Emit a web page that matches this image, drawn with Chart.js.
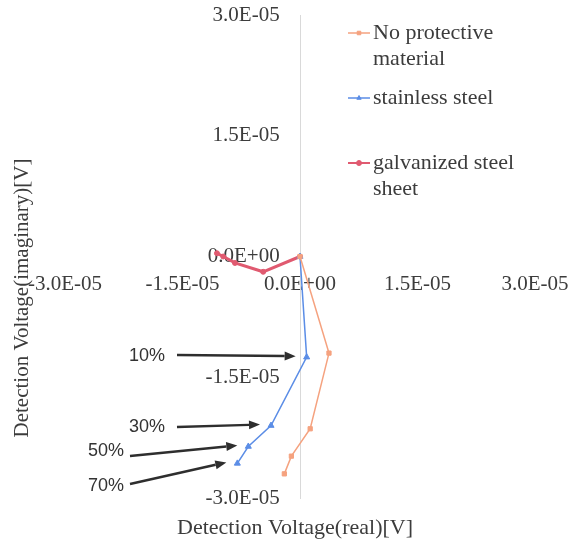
<!DOCTYPE html>
<html>
<head>
<meta charset="utf-8">
<script src="https://cdn.jsdelivr.net/npm/chart.js@4/dist/chart.umd.min.js"></script>
<style>
  html, body { margin: 0; padding: 0; background: #ffffff; }
  #wrap { width: 576px; height: 547px; position: relative; }
</style>
</head>
<body>
<div id="wrap"><canvas id="c" width="576" height="547"></canvas></div>
<script>
// Axis ticks (volts) and their printed labels
const xTickValues = [-3.0e-5, -1.5e-5, 0, 1.5e-5, 3.0e-5];
const xTickLabels = ['-3.0E-05', '-1.5E-05', '0.0E+00', '1.5E-05', '3.0E-05'];
const yTickValues = [-3.0e-5, -1.5e-5, 0, 1.5e-5, 3.0e-5];
const yTickLabels = ['-3.0E-05', '-1.5E-05', '0.0E+00', '1.5E-05', '3.0E-05'];

// Series: detection voltage (real, imaginary) from 0% to 70%
const seriesNames = ['No protective material', 'stainless steel', 'galvanized steel sheet'];
const noProtectReal = [0, 3.7e-6, 1.3e-6, -1.1e-6, -2.0e-6];
const noProtectImag = [0, -12.0e-6, -21.4e-6, -24.8e-6, -27.0e-6];
const stainlessReal = [0, 0.85e-6, -3.7e-6, -6.6e-6, -8.0e-6];
const stainlessImag = [0, -12.5e-6, -21.0e-6, -23.6e-6, -25.7e-6];
const galvanizedReal = [0, -4.7e-6, -8.3e-6, -9.8e-6, -10.6e-6];
const galvanizedImag = [0, -1.9e-6, -0.8e-6, 0, 0.4e-6];

// Percentage callouts pointing at stainless steel points (index 1..4)
const percentLabels = ['10%', '30%', '50%', '70%'];
const percentPointIndex = [1, 2, 3, 4];

const SERIF = '"Liberation Serif", "Times New Roman", serif';
const SANS = '"Liberation Sans", Arial, sans-serif';
const TEXT = '#3c3c3c';

// Gap between the vertical axis line and its tick labels, in volts of the real axis
const Y_LABEL_GAP = 2.6e-6;

function pairs(xs, ys) { return xs.map((x, i) => ({ x: x, y: ys[i] })); }

// Callout layout: label centre, arrow start (pixels)
const calloutLayout = [
  { tx: 147, ty: 356, sx: 177, sy: 355 },
  { tx: 147, ty: 427, sx: 177, sy: 427 },
  { tx: 106, ty: 451, sx: 130, sy: 456 },
  { tx: 106, ty: 486, sx: 130, sy: 484 }
];

function arrow(ctx, x0, y0, x1, y1) {
  const ang = Math.atan2(y1 - y0, x1 - x0);
  const hl = 11, hw = 4.5;
  const bx = x1 - hl * Math.cos(ang), by = y1 - hl * Math.sin(ang);
  ctx.beginPath();
  ctx.moveTo(x0, y0);
  ctx.lineTo(bx, by);
  ctx.stroke();
  ctx.beginPath();
  ctx.moveTo(x1, y1);
  ctx.lineTo(bx + hw * Math.sin(ang), by - hw * Math.cos(ang));
  ctx.lineTo(bx - hw * Math.sin(ang), by + hw * Math.cos(ang));
  ctx.closePath();
  ctx.fill();
}

function wrapText(ctx, text, maxW) {
  const words = text.split(' ');
  const lines = [];
  let cur = '';
  words.forEach(w => {
    const t = cur ? cur + ' ' + w : w;
    if (cur && ctx.measureText(t).width > maxW) { lines.push(cur); cur = w; }
    else cur = t;
  });
  if (cur) lines.push(cur);
  return lines;
}

// Centre-crossing axes should not reserve any room in the layout
function noRoom(scale) {
  if (scale.isHorizontal()) scale.height = 0; else scale.width = 0;
  scale.paddingTop = 0;
  scale.paddingBottom = 0;
  scale.paddingLeft = 0;
  scale.paddingRight = 0;
}

const decorations = {
  id: 'decorations',
  afterDraw(chart) {
    const ctx = chart.ctx;
    ctx.save();

    // Axis titles
    ctx.fillStyle = TEXT;
    ctx.font = '22px ' + SERIF;
    ctx.textAlign = 'center';
    ctx.textBaseline = 'middle';
    ctx.fillText('Detection Voltage(real)[V]', 295, 528);
    ctx.save();
    ctx.translate(22, 298);
    ctx.rotate(-Math.PI / 2);
    ctx.font = '21px ' + SERIF;
    ctx.fillText('Detection Voltage(imaginary)[V]', 0, 0);
    ctx.restore();

    // Legend
    const legendX = 348, textX = 373;
    const rowTop = [33, 98, 163];
    const lineH = 26;
    ctx.font = '22px ' + SERIF;
    ctx.textAlign = 'left';
    chart.data.datasets.forEach((ds, i) => {
      const y = rowTop[i];
      ctx.strokeStyle = ds.borderColor;
      ctx.fillStyle = ds.backgroundColor;
      ctx.lineWidth = Math.min(ds.borderWidth, 2);
      ctx.beginPath();
      ctx.moveTo(legendX, y);
      ctx.lineTo(legendX + 22, y);
      ctx.stroke();
      ctx.lineWidth = 1;
      Chart.helpers.drawPoint(ctx, {
        pointStyle: ds.pointStyle, radius: 2.5, borderWidth: 1, rotation: 0
      }, legendX + 11, y);
      ctx.fillStyle = TEXT;
      wrapText(ctx, ds.label, 150).forEach((ln, k) => {
        ctx.fillText(ln, textX, y + k * lineH);
      });
    });

    // Percentage callouts
    const meta = chart.getDatasetMeta(1);
    ctx.strokeStyle = '#2e2e2e';
    ctx.fillStyle = '#2e2e2e';
    ctx.lineWidth = 2.5;
    percentLabels.forEach((lab, i) => {
      const pt = meta.data[percentPointIndex[i]];
      const L = calloutLayout[i];
      arrow(ctx, L.sx, L.sy, pt.x - 11, pt.y - 1);
    });
    ctx.fillStyle = '#333333';
    ctx.font = '18px ' + SANS;
    ctx.textAlign = 'center';
    ctx.textBaseline = 'middle';
    percentLabels.forEach((lab, i) => {
      const L = calloutLayout[i];
      ctx.fillText(lab, L.tx, L.ty);
    });
    ctx.restore();
  }
};

new Chart(document.getElementById('c'), {
  type: 'scatter',
  data: {
    datasets: [
      {
        label: seriesNames[0],
        data: pairs(noProtectReal, noProtectImag),
        showLine: true,
        borderColor: '#f5a27f',
        backgroundColor: '#f5a27f',
        borderWidth: 1.5,
        pointStyle: 'rect',
        pointRadius: 3,
        pointBorderWidth: 1
      },
      {
        label: seriesNames[1],
        data: pairs(stainlessReal, stainlessImag),
        showLine: true,
        borderColor: '#5b8de6',
        backgroundColor: '#5b8de6',
        borderWidth: 1.5,
        pointStyle: 'triangle',
        pointRadius: 3.5,
        pointBorderWidth: 1
      },
      {
        label: seriesNames[2],
        data: pairs(galvanizedReal, galvanizedImag),
        showLine: true,
        borderColor: '#e05a70',
        backgroundColor: '#e05a70',
        borderWidth: 3,
        pointStyle: 'circle',
        pointRadius: 2.5,
        pointBorderWidth: 1
      }
    ]
  },
  options: {
    responsive: false,
    animation: false,
    layout: { padding: { left: 65, right: 41, top: 15, bottom: 49 } },
    plugins: { legend: { display: false }, tooltip: { enabled: false } },
    scales: {
      x: {
        type: 'linear',
        min: -3.0e-5,
        max: 3.0e-5,
        position: { y: 0 },
        afterFit: noRoom,
        afterBuildTicks(scale) { scale.ticks = xTickValues.map(v => ({ value: v })); },
        grid: { display: false, drawTicks: false },
        border: { display: false },
        ticks: {
          autoSkip: false,
          maxRotation: 0,
          padding: 15,
          color: TEXT,
          font: { family: SERIF, size: 21 },
          callback: (v, i) => xTickLabels[i]
        }
      },
      y: {
        type: 'linear',
        min: -3.0e-5,
        max: 3.0e-5,
        position: { x: -Y_LABEL_GAP },
        afterFit: noRoom,
        afterBuildTicks(scale) { scale.ticks = yTickValues.map(v => ({ value: v })); },
        grid: { display: false, drawTicks: false },
        border: { display: false },
        ticks: {
          autoSkip: false,
          color: TEXT,
          font: { family: SERIF, size: 21 },
          callback: (v, i) => yTickLabels[i]
        }
      },
      // Vertical axis line through the origin
      yLine: {
        type: 'linear',
        axis: 'y',
        min: -3.0e-5,
        max: 3.0e-5,
        position: { x: 0 },
        afterFit: noRoom,
        grid: { display: false, drawTicks: false },
        border: { display: true, color: '#d9d9d9', width: 1 },
        ticks: { display: false }
      }
    }
  },
  plugins: [decorations]
});
</script>
</body>
</html>
